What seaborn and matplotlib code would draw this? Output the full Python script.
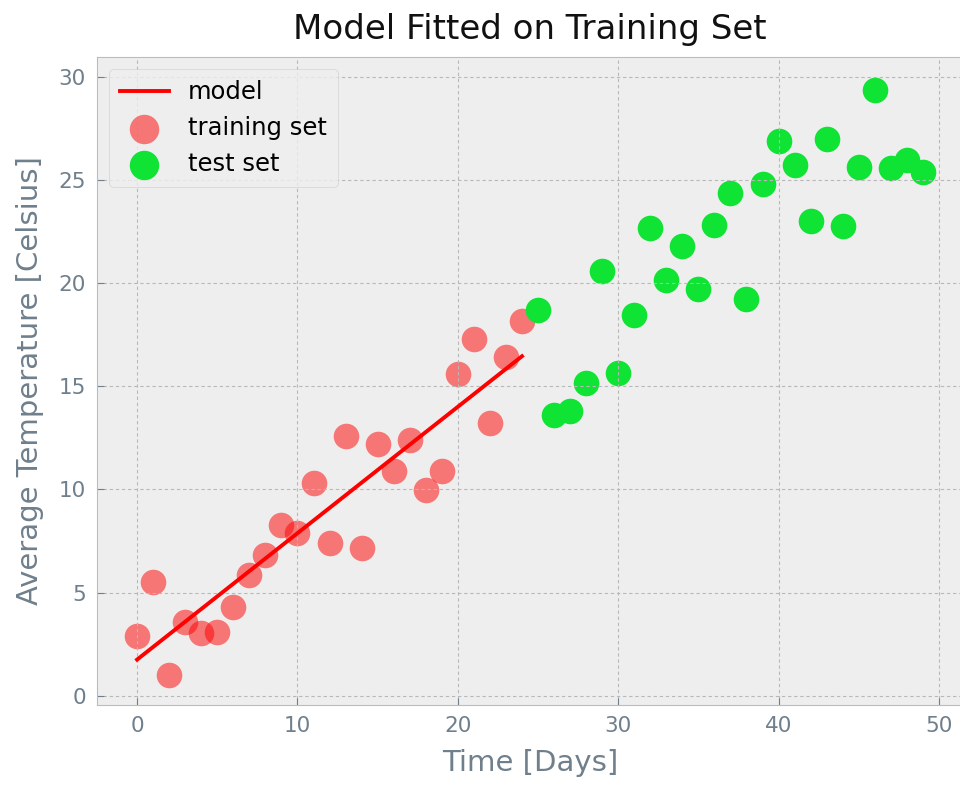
import matplotlib
matplotlib.use("Agg")
import matplotlib.pyplot as plt
import seaborn as sns
import pandas as pd

train_days = list(range(0, 25))
train_temp = [2.9, 5.5, 1.0, 3.55, 3.05, 3.1, 4.3, 5.85, 6.8, 8.25, 7.9, 10.3, 7.4, 12.6, 7.15,
              12.2, 10.9, 12.4, 9.95, 10.9, 15.6, 17.3, 13.2, 16.4, 18.15]
test_days = list(range(25, 50))
test_temp = [18.7, 13.6, 13.8, 15.15, 20.6, 15.65, 18.45, 22.65, 20.15, 21.8, 19.7, 22.8, 24.35,
             19.2, 24.8, 26.9, 25.7, 23.0, 27.0, 22.75, 25.6, 29.35, 25.55, 25.95, 25.4]
model_days = [0, 24]
model_temp = [1.75, 16.45]

plt.style.use("bmh")
slate = "#6f7f8c"
plt.rcParams.update({
    "xtick.color": slate, "ytick.color": slate, "axes.labelcolor": slate,
    "xtick.labelsize": 15.5, "ytick.labelsize": 15.5,
    "axes.edgecolor": "#bcbcbc",
})

fig = plt.figure(figsize=(9.6, 7.85), dpi=100)
ax = fig.add_axes([97 / 960, 80 / 785, 866 / 960, 648 / 785])

train = pd.DataFrame({"day": train_days, "temp": train_temp})
test = pd.DataFrame({"day": test_days, "temp": test_temp})
model = pd.DataFrame({"day": model_days, "temp": model_temp})

sns.lineplot(data=model, x="day", y="temp", color="red", linewidth=2.8, ax=ax, label="model")
sns.scatterplot(data=train, x="day", y="temp", color="red", alpha=0.5, s=340, linewidth=0,
                ax=ax, label="training set")
sns.scatterplot(data=test, x="day", y="temp", color="#0fe333", s=340, linewidth=0,
                ax=ax, label="test set")

ax.set_xticks([0, 10, 20, 30, 40, 50])
ax.set_yticks([0, 5, 10, 15, 20, 25, 30])
ax.set_xlim(-2.5, 51.5)
ax.set_ylim(-0.45, 30.95)
ax.set_title("Model Fitted on Training Set", fontsize=24.5, color="#111111", pad=13)
ax.set_xlabel("Time [Days]", fontsize=21, labelpad=9)
ax.set_ylabel("Average Temperature [Celsius]", fontsize=21, labelpad=10)
ax.grid(True, linestyle=(0, (3, 2.5)), color="#b8b8b8", linewidth=0.8)
ax.tick_params(length=5, color=slate, pad=8)

leg = ax.legend(loc="upper left", fontsize=17.5, markerscale=1.15, handlelength=2.0,
                borderpad=0.45, labelspacing=0.5, frameon=True, borderaxespad=0.5)
leg.get_frame().set_facecolor("#eeeeee")
leg.get_frame().set_edgecolor("#cccccc")

fig.savefig("out.png", dpi=100)
